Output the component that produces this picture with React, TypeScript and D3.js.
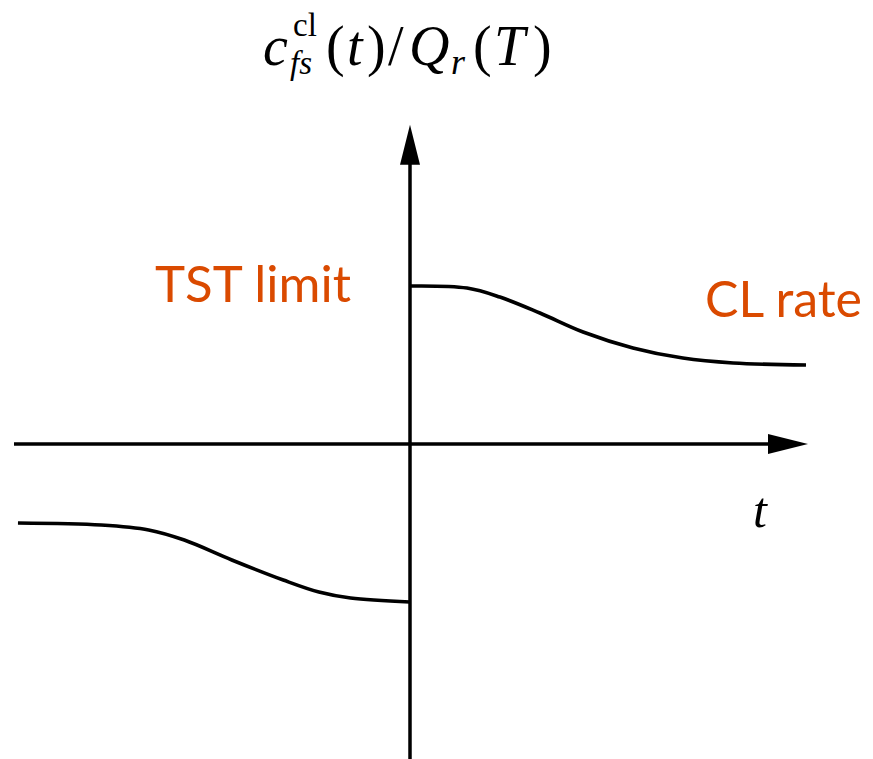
import React from "react";
import * as d3 from "d3";

// Rate normalised by Q_r(T): branch for t > 0 and the mirrored branch for t < 0
const upperT = [0, 0.144, 0.227, 0.328, 0.437, 0.563, 0.689, 0.816, 1.0];
const upperV = [1.0, 0.987, 0.93, 0.829, 0.709, 0.608, 0.544, 0.513, 0.5];
const lowerT = [-0.99, -0.78, -0.66, -0.57, -0.45, -0.32, -0.23, -0.15, 0];
const lowerV = [-0.5, -0.513, -0.544, -0.608, -0.734, -0.861, -0.937, -0.975, -1.0];

const labels = { left: "TST limit", right: "CL rate", xAxis: "t" };

const W = 873;
const H = 759;
const orange = "#DA4A00";

export default function App() {
  const x = d3.scaleLinear().domain([-1, 1]).range([14, 806]);
  const y = d3.scaleLinear().domain([-2, 2]).range([760, 128]);

  const line = d3
    .line<[number, number]>()
    .x((d) => x(d[0]))
    .y((d) => y(d[1]))
    .curve(d3.curveCatmullRom.alpha(0.5));

  const upper = upperT.map((t, i) => [t, upperV[i]] as [number, number]);
  const lower = lowerT.map((t, i) => [t, lowerV[i]] as [number, number]);

  const x0 = x(0);
  const y0 = y(0);
  const tipX = x(1.005);
  const tipY = y(2.02);
  const headL = 40;
  const headW = 10;

  return (
    <svg
      width={W}
      height={H}
      style={{ position: "absolute", left: 0, top: 0, background: "#fff" }}
    >
      {/* axes */}
      <line x1={x(-1)} y1={y0} x2={tipX - headL + 2} y2={y0} stroke="#000" strokeWidth={3.5} />
      <path
        d={`M${tipX},${y0} L${tipX - headL},${y0 - headW} L${tipX - headL},${y0 + headW} Z`}
        fill="#000"
      />
      <line x1={x0} y1={y(-2)} x2={x0} y2={tipY + headL - 2} stroke="#000" strokeWidth={3.5} />
      <path
        d={`M${x0},${tipY} L${x0 - headW},${tipY + headL} L${x0 + headW},${tipY + headL} Z`}
        fill="#000"
      />

      {/* curves */}
      <path d={line(upper) ?? ""} fill="none" stroke="#000" strokeWidth={3.6} />
      <path d={line(lower) ?? ""} fill="none" stroke="#000" strokeWidth={3.6} />

      {/* annotations */}
      <text
        x={155}
        y={302}
        fill={orange}
        fontFamily="Lato, 'Open Sans', sans-serif"
        fontSize={51}
      >
        {labels.left}
      </text>
      <text
        x={705}
        y={317}
        fill={orange}
        fontFamily="Lato, 'Open Sans', sans-serif"
        fontSize={50}
      >
        {labels.right}
      </text>

      {/* x-axis label */}
      <text
        x={753}
        y={527}
        fontFamily="'Liberation Serif', serif"
        fontStyle="italic"
        fontSize={50}
      >
        {labels.xAxis}
      </text>

      {/* y-axis title */}
      <g fontFamily="'Liberation Serif', serif" fill="#000">
        <text x={263} y={65} fontSize={56} fontStyle="italic">c</text>
        <text x={293} y={36} fontSize={33}>cl</text>
        <text x={290} y={74} fontSize={33} fontStyle="italic">fs</text>
        <text x={326} y={65} fontSize={56}>(</text>
        <text x={347} y={65} fontSize={56} fontStyle="italic">t</text>
        <text x={367} y={65} fontSize={56}>)</text>
        <text x={388} y={65} fontSize={56}>/</text>
        <text x={409} y={65} fontSize={56} fontStyle="italic">Q</text>
        <text x={451} y={74} fontSize={36} fontStyle="italic">r</text>
        <text x={473} y={65} fontSize={56}>(</text>
        <text x={494} y={65} fontSize={56} fontStyle="italic">T</text>
        <text x={533} y={65} fontSize={56}>)</text>
      </g>
    </svg>
  );
}
